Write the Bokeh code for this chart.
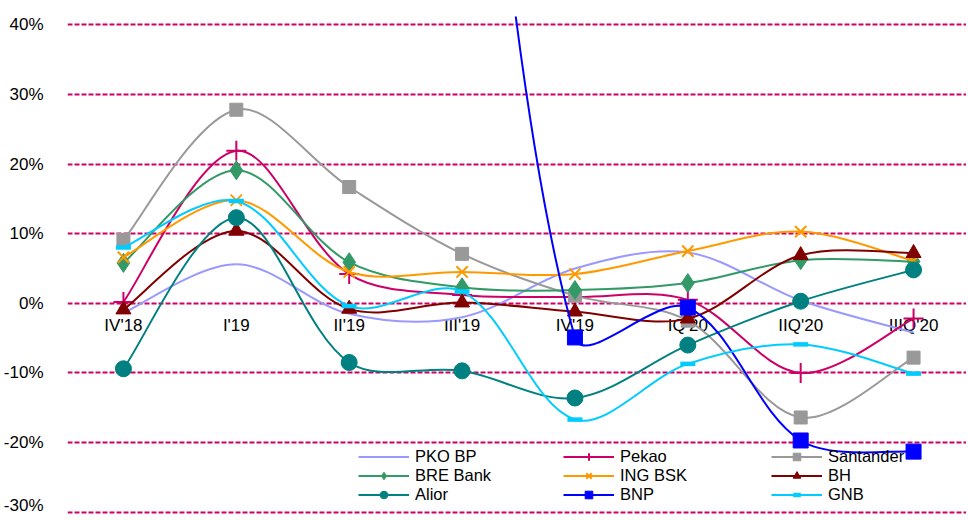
import math
from bokeh.plotting import figure
from bokeh.models import (ColumnDataSource, FixedTicker, PrintfTickFormatter,
                          Legend, LegendItem, Range1d)
from bokeh.core.properties import value
from bokeh.embed import file_html
from bokeh.resources import INLINE

nan = float("nan")

categories = ["IV'18", "I'19", "II'19", "III'19", "IV'19", "IQ'20", "IIQ'20", "IIIQ'20"]
y_ticks = [-30, -20, -10, 0, 10, 20, 30, 40]

pko_bp = [-1.4, 5.6, -1.5, -2.0, 5.0, 7.3, 0.4, -4.2]
pekao = [0.2, 21.9, 4.2, 1.2, 0.9, 0.5, -10.0, -2.2]
santander = [9.1, 27.8, 16.7, 7.1, 1.1, -2.5, -16.4, -7.8]
bre_bank = [5.8, 19.1, 5.9, 2.3, 1.9, 2.9, 6.2, 6.0]
ing_bsk = [6.6, 14.8, 4.5, 4.5, 4.2, 7.5, 10.3, 6.1]
bh = [-0.9, 10.4, -0.8, 0.1, -1.2, -2.2, 6.9, 7.2]
alior = [-9.4, 12.3, -8.5, -9.7, -13.6, -6.0, 0.3, 4.8]
bnp = [nan, nan, nan, 113.0, -4.9, -0.6, -19.7, -21.3]
gnb = [8.0, 14.7, -0.4, 1.7, -16.7, -8.7, -5.9, -10.1]

series = [
    ("PKO BP", pko_bp, "#9999FF", None, 0, {}),
    ("Pekao", pekao, "#CC0066", "cross", 20, {"line_width": 2}),
    ("Santander", santander, "#999999", "square", 13, {}),
    ("BRE Bank", bre_bank, "#339966", "diamond", 19, {}),
    ("ING BSK", ing_bsk, "#FF9900", "x", 16, {"line_width": 2}),
    ("BH", bh, "#800000", "triangle", 15, {}),
    ("Alior", alior, "#008080", "circle", 16, {}),
    ("BNP", bnp, "#0000FF", "square", 15, {}),
    ("GNB", gnb, "#00CCFF", "dash", 15, {"line_width": 4.5}),
]

FONT = "Liberation Sans"
FRAME_W, FRAME_H = 900, 498
X_START = -0.4956
X_END = X_START + FRAME_W / 113.0
Y_END = 41.19
Y_START = Y_END - FRAME_H / 6.963

p = figure(width=966, height=514, output_backend="svg", toolbar_location=None,
           x_range=Range1d(X_START, X_END), y_range=Range1d(Y_START, Y_END),
           min_border_left=66, min_border_right=0, min_border_top=16,
           min_border_bottom=0)
p.outline_line_color = None
p.xaxis.visible = False
p.xgrid.visible = False
p.yaxis.ticker = FixedTicker(ticks=y_ticks)
p.yaxis.formatter = PrintfTickFormatter(format="%d%%")
p.yaxis.axis_line_color = None
p.yaxis.major_tick_line_color = None
p.yaxis.minor_tick_line_color = None
p.yaxis.major_label_standoff = 18
p.yaxis.major_label_text_font = FONT
p.yaxis.major_label_text_font_size = "17px"
p.yaxis.major_label_text_color = "#000000"
p.ygrid.ticker = FixedTicker(ticks=y_ticks)
p.ygrid.grid_line_color = "#CC0066"
p.ygrid.grid_line_dash = "5 2"
p.ygrid.grid_line_width = 2

# category labels sitting under the 0% line
xs = list(range(len(categories)))
lab_src = ColumnDataSource(dict(x=xs, y=[0] * len(xs), t=categories))
p.text(x="x", y="y", text="t", source=lab_src, text_align="center",
       text_baseline="top", y_offset=13, text_font=value(FONT),
       text_font_size="17px", text_color="#000000")

# pixel scale factors, used only to weight the smoothing tangents
SX = FRAME_W / (X_END - X_START)
SY = FRAME_H / (Y_END - Y_START)


def dist(xa, ya, xb, yb):
    return math.hypot((xb - xa) * SX, (yb - ya) * SY)


def bezier_source(xv, yv):
    d = dict(x0=[], y0=[], x1=[], y1=[], cx0=[], cy0=[], cx1=[], cy1=[])
    n = len(yv)
    ok = [not math.isnan(v) for v in yv]

    def handles(i):
        pi = i - 1 if i - 1 >= 0 and ok[i - 1] else i
        ni = i + 1 if i + 1 < n and ok[i + 1] else i
        tx, ty = xv[ni] - xv[pi], yv[ni] - yv[pi]
        dp = dist(xv[pi], yv[pi], xv[i], yv[i])
        dn = dist(xv[i], yv[i], xv[ni], yv[ni])
        if dp == 0 or dn == 0:
            fin = fout = 1.0 / 6.0
        else:
            fin = 2.0 / 6.0 * dp / (dp + dn)
            fout = 2.0 / 6.0 * dn / (dp + dn)
        return ((xv[i] - tx * fin, yv[i] - ty * fin),
                (xv[i] + tx * fout, yv[i] + ty * fout))

    for i in range(n - 1):
        if not (ok[i] and ok[i + 1]):
            continue
        _, out_h = handles(i)
        in_h, _ = handles(i + 1)
        d["x0"].append(xv[i]); d["y0"].append(yv[i])
        d["x1"].append(xv[i + 1]); d["y1"].append(yv[i + 1])
        d["cx0"].append(out_h[0]); d["cy0"].append(out_h[1])
        d["cx1"].append(in_h[0]); d["cy1"].append(in_h[1])
    return ColumnDataSource(d)


items = {}
for name, vals, color, marker, size, extra in series:
    rs = []
    br = p.bezier(x0="x0", y0="y0", x1="x1", y1="y1", cx0="cx0", cy0="cy0",
                  cx1="cx1", cy1="cy1", source=bezier_source(xs, vals),
                  line_color=color, line_width=2)
    rs.append(br)
    if marker:
        src = ColumnDataSource(dict(x=[x for x, v in zip(xs, vals) if not math.isnan(v)],
                                    y=[v for v in vals if not math.isnan(v)]))
        sr = p.scatter(x="x", y="y", source=src, marker=marker, size=size,
                       fill_color=color, line_color=color, **extra)
        rs.append(sr)
    items[name] = LegendItem(label=name, renderers=rs)

columns = [["PKO BP", "BRE Bank", "Alior"],
           ["Pekao", "ING BSK", "BNP"],
           ["Santander", "BH", "GNB"]]
col_x = [291, 496, 704]
for cx, names in zip(col_x, columns):
    lg = Legend(items=[items[n] for n in names], location=(cx, 10),
                orientation="vertical", glyph_width=51, glyph_height=19,
                label_height=19, label_standoff=6, spacing=0, padding=0,
                margin=0, border_line_alpha=0, background_fill_alpha=0,
                label_text_font=FONT, label_text_font_size="16.5px",
                label_text_color="#000000")
    p.add_layout(lg, "center")

open("out.html", "w").write(file_html(p, INLINE))
